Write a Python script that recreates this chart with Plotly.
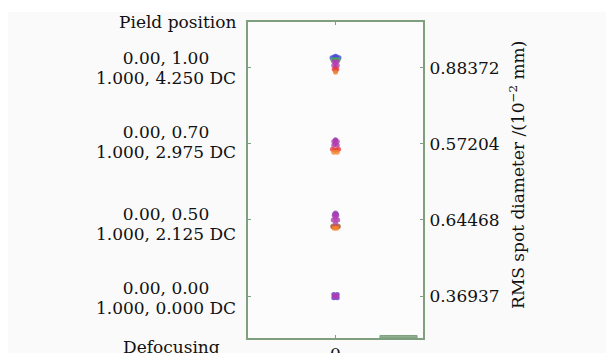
import plotly.graph_objects as go

# ---- data ----
field_pos = ["0.00, 0.00", "0.00, 0.50", "0.00, 0.70", "0.00, 1.00"]
defocus = ["1.000, 0.000 DC", "1.000, 2.125 DC", "1.000, 2.975 DC", "1.000, 4.250 DC"]
rms_values = ["0.36937", "0.64468", "0.57204", "0.88372"]
field_rows = [1, 2, 3, 4]
label_shift = [-2, -4, 2, 0]   # px vertical nudge of each label block

wave_colors = ["#4a4ad8", "#3cb84a", "#b03cb0", "#e8403c", "#f08a30"]

# spot offsets (dx, dy) per field row, per wavelength
spot_dx = {
    1: [[-0.02, 0.02, -0.02, 0.02], [], [-0.01, 0.01, 0.0, -0.01, 0.01], [], []],
    2: [[-0.01, 0.01], [-0.03, 0.03, 0.0], [-0.015, 0.015, 0.0, -0.025, 0.025, 0.0, 0.0], [-0.03, 0.0, 0.03], [-0.015, 0.015]],
    3: [[0.0], [], [-0.02, 0.02, 0.0, -0.02, 0.02, 0.0], [-0.035, -0.01, 0.015, 0.035], [-0.02, 0.02]],
    4: [[-0.04, -0.015, 0.015, 0.04, 0.0], [-0.03, 0.0, 0.03], [-0.02, 0.02, 0.0, -0.02, 0.02, 0.0], [-0.015, 0.015, 0.0], [0.0]],
}
spot_dy = {
    1: [[0.02, 0.02, -0.02, -0.02], [], [0.01, 0.01, 0.0, -0.01, -0.01], [], []],
    2: [[0.08, 0.08], [-0.08, -0.08, -0.09], [0.06, 0.06, 0.09, 0.0, 0.0, -0.04, 0.03], [-0.09, -0.1, -0.09], [-0.11, -0.11]],
    3: [[0.05], [], [0.03, 0.03, 0.05, -0.02, -0.02, 0.0], [-0.07, -0.08, -0.08, -0.07], [-0.11, -0.11]],
    4: [[0.13, 0.14, 0.14, 0.13, 0.15], [0.105, 0.105, 0.105], [0.08, 0.08, 0.06, 0.03, 0.03, 0.0], [-0.02, -0.02, -0.04], [-0.06]],
}

border = "#7f9f7f"
font_family = "DejaVu Serif"
txt = dict(family=font_family, size=17, color="#111")

fig = go.Figure()

for w, col in enumerate(wave_colors):
    xs, ys = [], []
    for row in field_rows:
        for dx, dy in zip(spot_dx[row][w], spot_dy[row][w]):
            xs.append(dx)
            ys.append(row + dy)
    fig.add_trace(go.Scatter(x=xs, y=ys, mode="markers",
                             marker=dict(color=col, size=5, opacity=0.8, line=dict(width=0)),
                             showlegend=False, hoverinfo="skip"))

# left labels (two lines each)
for row, a, b, s in zip(field_rows, field_pos, defocus, label_shift):
    fig.add_annotation(x=-0.057, xref="paper", y=row, yref="y", text=a, yshift=10 + s,
                       showarrow=False, xanchor="right", yanchor="middle", align="center",
                       width=140, font=txt)
    fig.add_annotation(x=-0.057, xref="paper", y=row, yref="y", text=b, yshift=-10 + s,
                       showarrow=False, xanchor="right", yanchor="middle", align="center",
                       width=140, font=txt)

fig.add_annotation(x=-0.057, xref="paper", y=1.0, yref="paper", text="Pield position",
                   showarrow=False, xanchor="right", yanchor="middle", font=txt)
fig.add_annotation(x=-0.44, xref="paper", y=-0.03, yref="paper", text="Defocusing",
                   showarrow=False, xanchor="center", yanchor="middle", font=txt)
fig.add_annotation(x=1.537, xref="paper", y=0.516, yref="paper",
                   text="RMS spot diameter /(10<sup>−2</sup> mm)", textangle=-90,
                   showarrow=False, xanchor="center", yanchor="middle", font=txt)

# top white strip & scale bar
fig.add_shape(type="rect", xref="paper", yref="paper", x0=-1.5, x1=2.2, y0=1.0316, y1=1.06,
              fillcolor="white", line=dict(width=0), layer="below")
fig.add_shape(type="rect", xref="paper", yref="paper", x0=0.754, x1=0.966, y0=0.0, y1=0.008,
              fillcolor="#8fb08f", line=dict(color="#7f9f7f", width=1))

fig.update_layout(
    width=606, height=345,
    margin=dict(l=240, r=191, t=14, b=15, autoexpand=False),
    paper_bgcolor="#fafafa", plot_bgcolor="#fcfcfc",
    font=txt,
    xaxis=dict(range=[-1, 1], tickvals=[0], ticktext=["0"], showgrid=False, zeroline=False,
               showline=True, linecolor=border, linewidth=2, mirror="ticks", automargin=False,
               ticks="inside", ticklen=3, tickcolor=border),
    yaxis=dict(range=[0.45, 4.6], tickvals=field_rows, ticktext=rms_values, side="right",
               showgrid=False, zeroline=False, showline=True, linecolor=border, linewidth=2,
               mirror="ticks", ticks="inside", ticklen=3, tickcolor=border, automargin=False,
               ticklabelstandoff=1),
)

fig.write_html("out.html")
